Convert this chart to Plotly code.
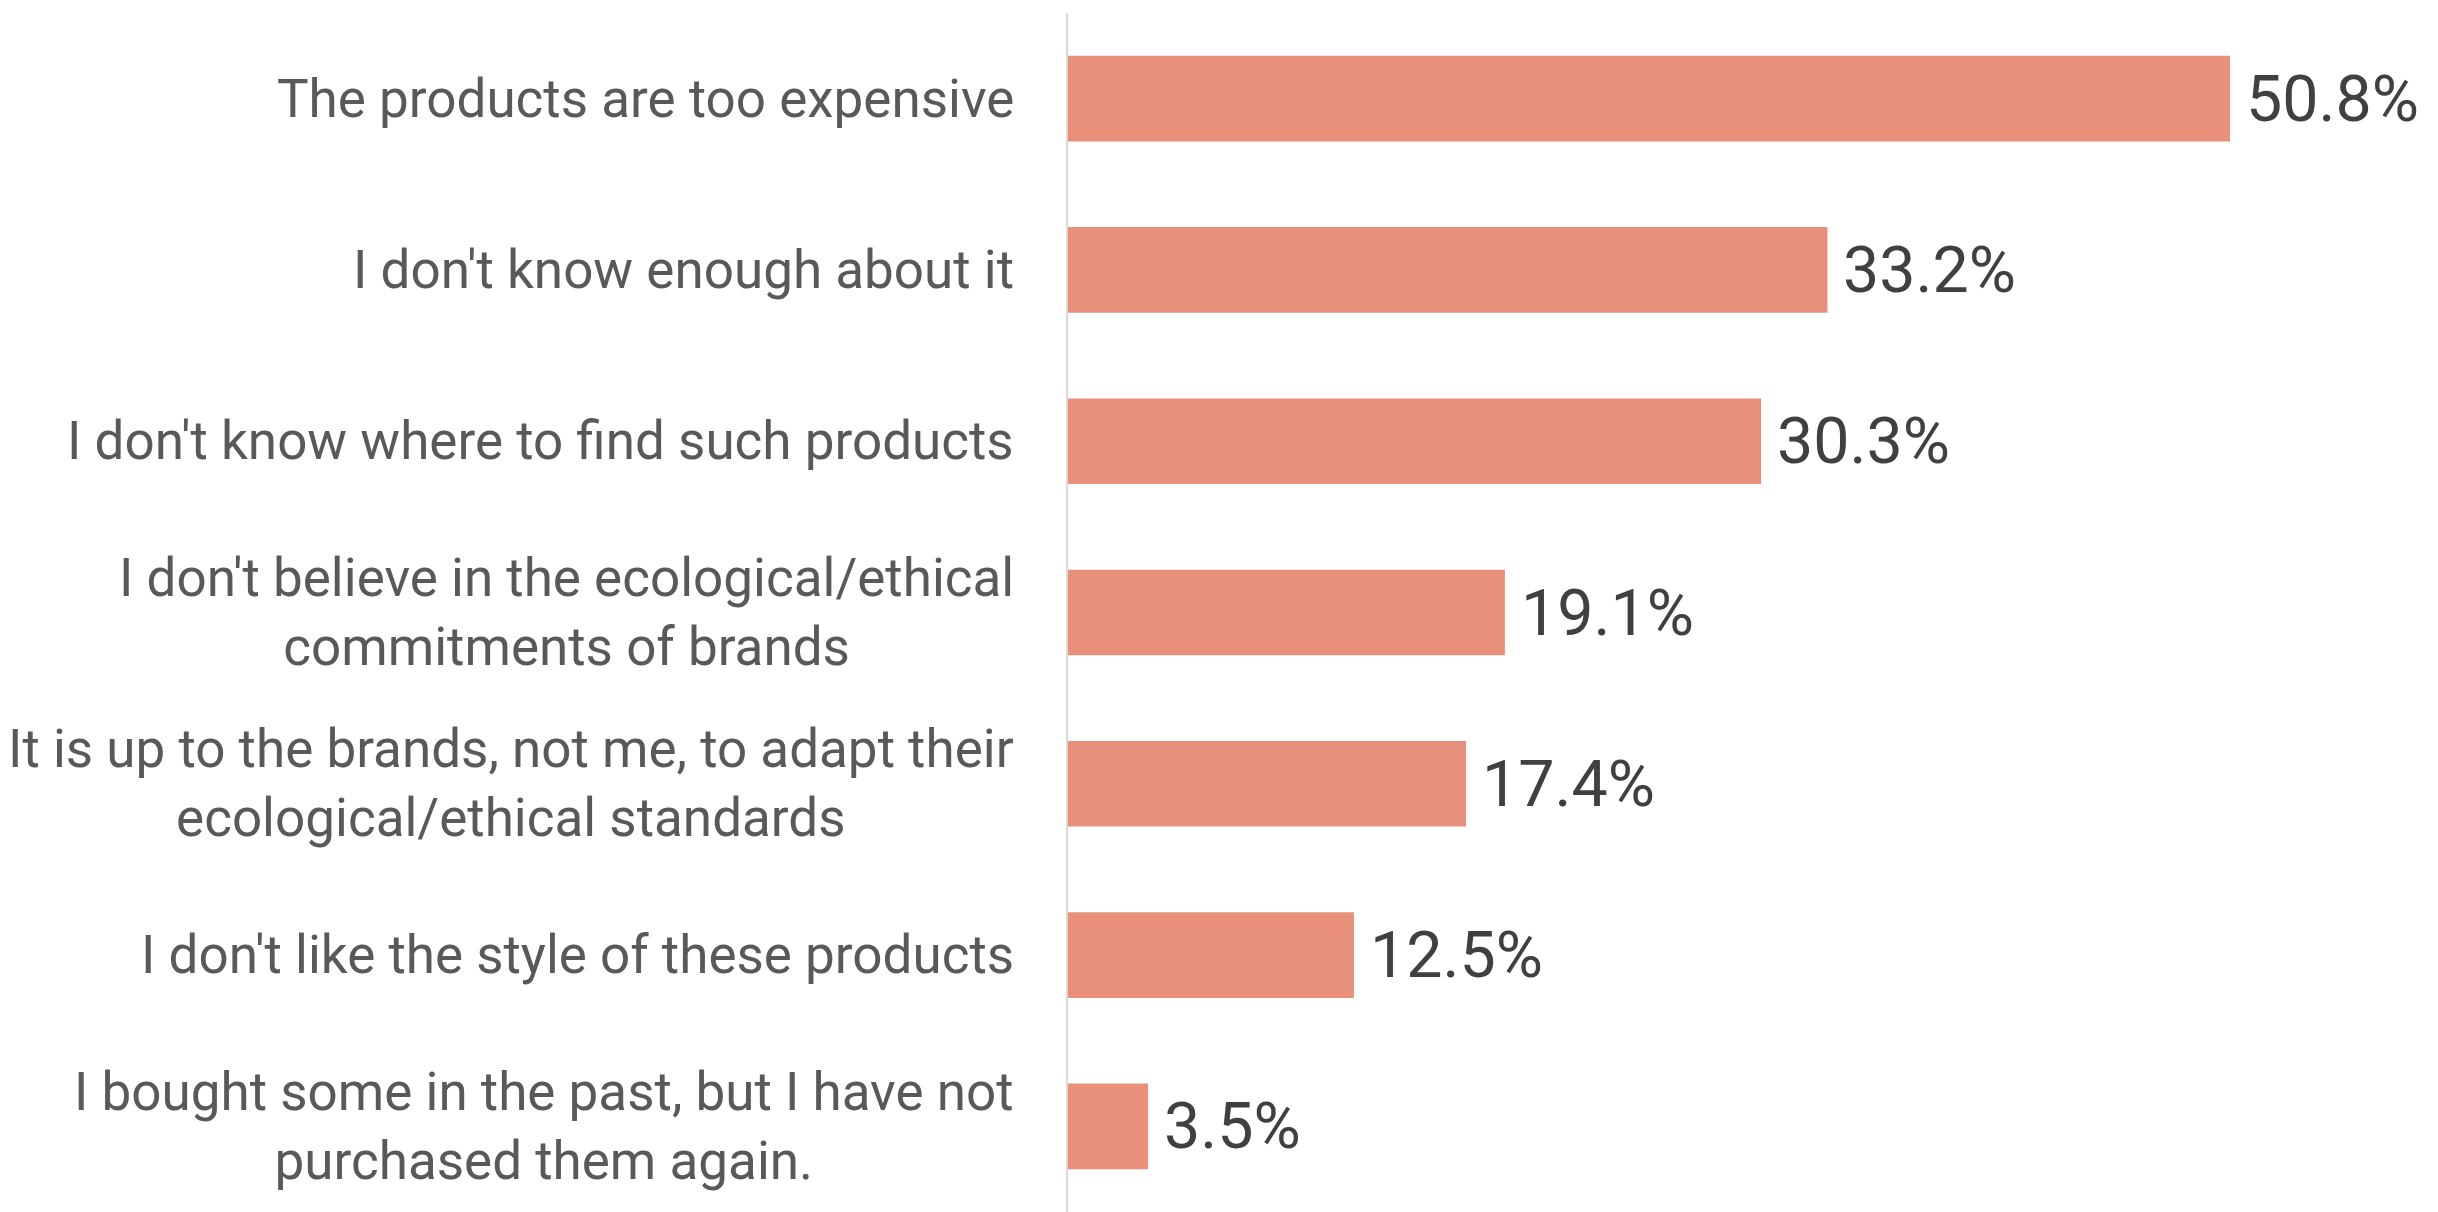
import plotly.graph_objects as go

categories = [
    "The products are too expensive",
    "I don't know enough about it",
    "I don't know where to find such products",
    "I don't believe in the ecological/ethical<br>commitments of brands",
    "It is up to the brands, not me, to adapt their<br>ecological/ethical standards",
    "I don't like the style of these products",
    "I bought some in the past, but I have not<br>purchased them again.",
]
values = [50.8, 33.2, 30.3, 19.1, 17.4, 12.5, 3.5]
value_labels = ["50.8%", "33.2%", "30.3%", "19.1%", "17.4%", "12.5%", "3.5%"]

bar_color = "#E8907A"
label_font = dict(family="Roboto, Arial, sans-serif", size=53, color="#595959")
value_font = dict(family="Roboto, Arial, sans-serif", size=64.5, color="#404040")

fig = go.Figure()
fig.add_trace(go.Bar(
    x=values, y=categories, orientation="h",
    marker=dict(color=bar_color, line=dict(width=0)),
    hoverinfo="skip",
))

annotations = []
for cat, v, t in zip(categories, values, value_labels):
    annotations.append(dict(
        x=v, y=cat, xref="x", yref="y", text=t, showarrow=False,
        xanchor="left", yanchor="middle", xshift=14, font=value_font,
    ))
    annotations.append(dict(
        x=0, y=cat, xref="x", yref="y", text=cat, showarrow=False,
        xanchor="right", yanchor="middle", xshift=-52, align="center",
        font=label_font,
    ))

fig.update_layout(
    width=2438, height=1212,
    margin=dict(l=1068, r=89, t=13, b=0),
    paper_bgcolor="white", plot_bgcolor="white",
    bargap=0.5,
    showlegend=False,
    annotations=annotations,
    xaxis=dict(range=[0, 56], showgrid=False, zeroline=False, showticklabels=False,
               showline=False, fixedrange=True),
    yaxis=dict(categoryorder="array", categoryarray=categories, autorange="reversed",
               showgrid=False, zeroline=False, showticklabels=False,
               showline=True, linecolor="#d9d9d9", linewidth=2, ticks=""),
)

fig.write_html("out.html")
